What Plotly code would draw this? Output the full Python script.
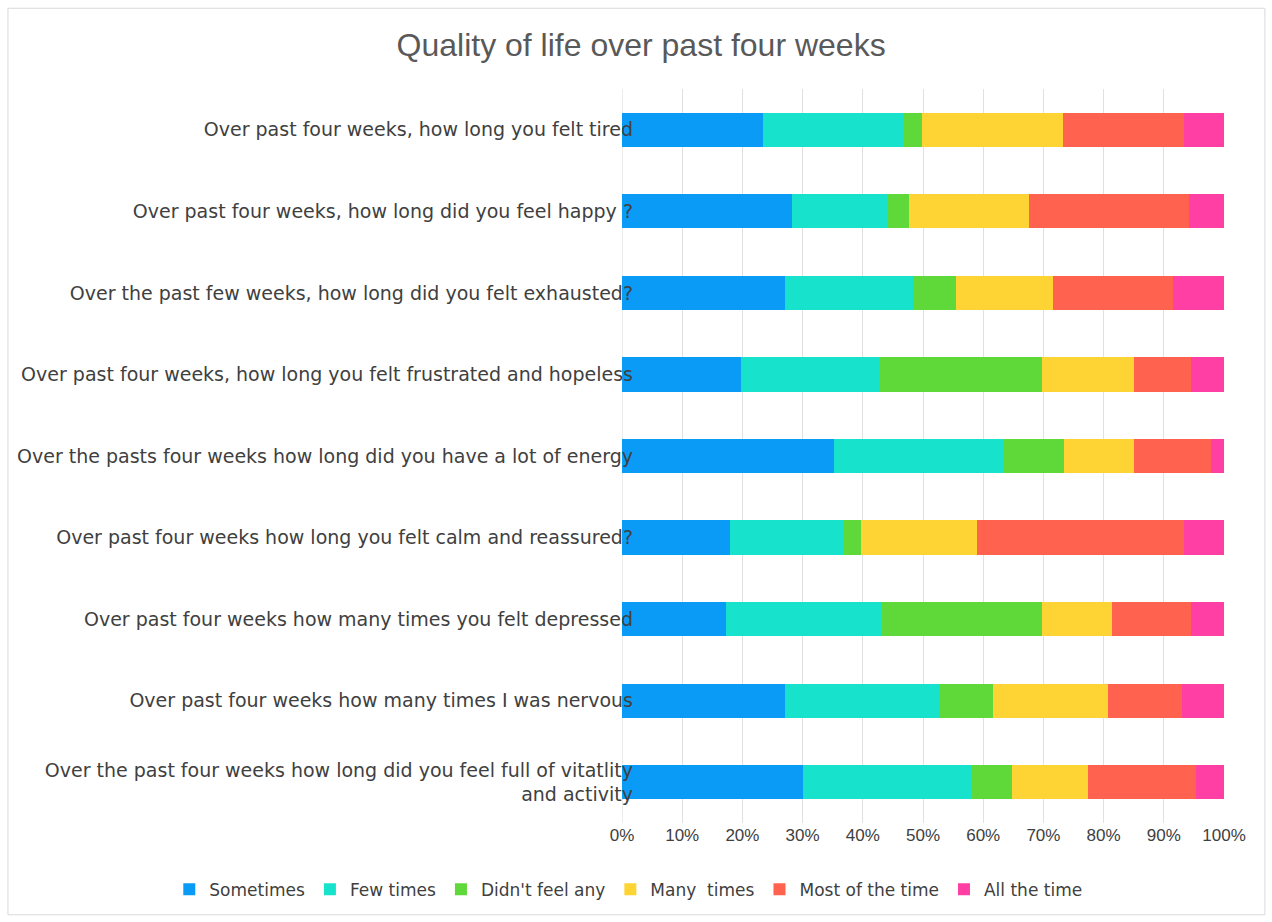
import plotly.graph_objects as go

questions = [
    "Over past four weeks, how long you felt tired",
    "Over past four weeks, how long did you feel happy ?",
    "Over the past few weeks, how long did you felt exhausted?",
    "Over past four weeks, how long you felt frustrated and hopeless",
    "Over the pasts four weeks how long did you have a lot of energy",
    "Over past four weeks how long you felt calm and reassured?",
    "Over past four weeks how many times you felt depressed",
    "Over past four weeks how many times I was nervous",
    "Over the past four weeks how long did you feel full of vitatlity<br>and activity",
]

sometimes = [23.5, 28.2, 27.0, 19.7, 35.2, 17.9, 17.3, 27.1, 30.0]
few_times = [23.4, 15.8, 21.3, 23.2, 28.2, 18.9, 25.9, 25.7, 28.0]
didnt_feel = [3.0, 3.6, 7.2, 26.8, 10.1, 2.9, 26.5, 8.8, 6.8]
many_times = [23.3, 20.0, 16.1, 15.4, 11.6, 19.3, 11.7, 19.1, 12.6]
most_time = [20.1, 26.6, 20.0, 9.4, 12.7, 34.3, 13.1, 12.4, 18.0]
all_time = [6.7, 5.8, 8.4, 5.5, 2.2, 6.7, 5.5, 6.9, 4.6]

series = [
    ("Sometimes", sometimes, "#0A9BF7"),
    ("Few times", few_times, "#17E3CD"),
    ("Didn't feel any", didnt_feel, "#5FD83A"),
    ("Many  times", many_times, "#FDD433"),
    ("Most of the time", most_time, "#FF6350"),
    ("All the time", all_time, "#FF3FA4"),
]

fig = go.Figure()
for name, vals, color in series:
    fig.add_trace(go.Bar(
        y=questions, x=vals, name=name, orientation="h",
        marker=dict(color=color, line=dict(width=0)),
    ))

fig.update_layout(
    barmode="stack",
    barnorm="percent",
    width=1272, height=922,
    paper_bgcolor="white", plot_bgcolor="white",
    margin=dict(l=622, r=48, t=89, b=99),
    title=dict(text="Quality of life over past four weeks", x=0.504, xanchor="center",
               y=0.951, yanchor="middle",
               font=dict(family="Liberation Sans, Arial", size=32, color="#595959")),
    font=dict(family="Liberation Sans, Arial", color="#404040"),
    bargap=0.58,
    legend=dict(orientation="h",
                x=-0.752, xanchor="left", y=-0.091, yanchor="middle",
                font=dict(family="DejaVu Sans", size=17, color="#404040"), traceorder="normal",
                itemwidth=30, bgcolor="rgba(0,0,0,0)"),
    showlegend=True,
)
fig.update_xaxes(
    range=[0, 100], tickvals=[0, 10, 20, 30, 40, 50, 60, 70, 80, 90, 100],
    ticktext=["0%", "10%", "20%", "30%", "40%", "50%", "60%", "70%", "80%", "90%", "100%"],
    showgrid=True, gridcolor="#E0E0E0", gridwidth=1, zeroline=False,
    tickfont=dict(size=17, color="#404040"), showline=False, ticks="",
)
fig.update_yaxes(
    autorange="reversed", showgrid=False, zeroline=False,
    tickfont=dict(family="DejaVu Sans", size=19, color="#404040"), ticks="", showline=False,
    ticklabelstandoff=-12,
)
fig.add_shape(type="line", xref="x", yref="paper", x0=0, x1=0, y0=0, y1=1,
              line=dict(color="#D9D9D9", width=1), layer="below")
fig.add_shape(type="rect", xref="paper", yref="paper", x0=-1.02, x1=1.068, y0=-0.125, y1=1.110,
              line=dict(color="#D9D9D9", width=1), fillcolor="rgba(0,0,0,0)")

fig.write_html("out.html")
